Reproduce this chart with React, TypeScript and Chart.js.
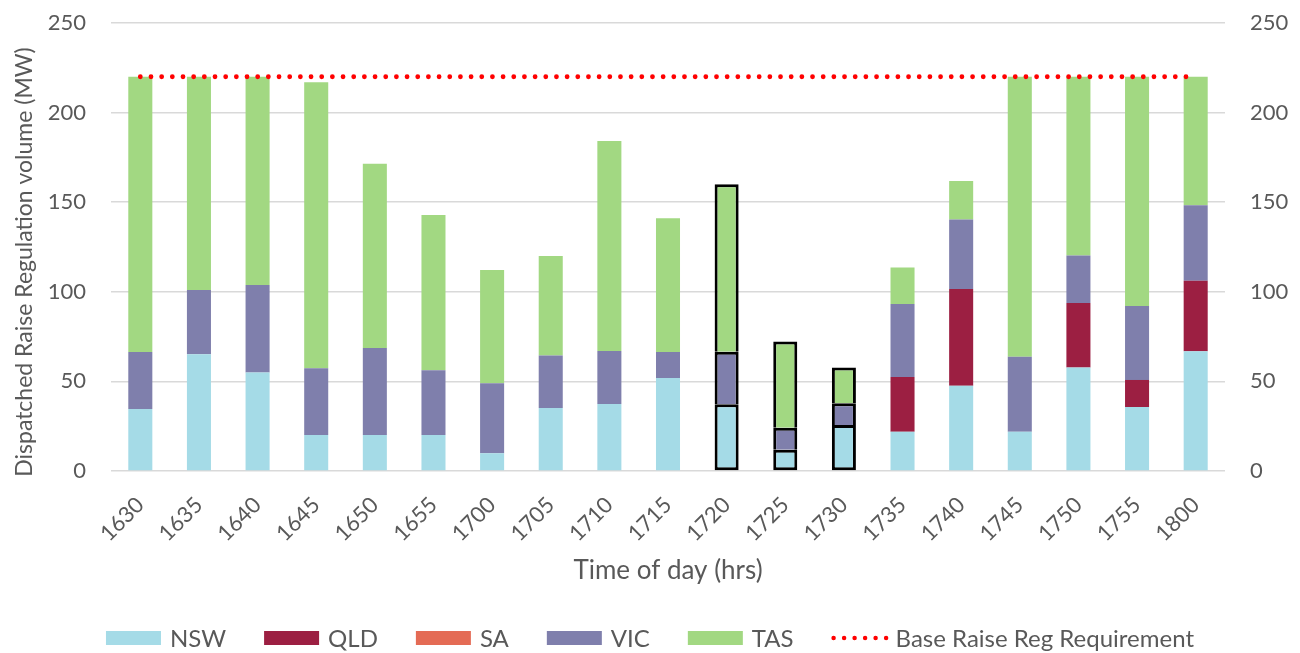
import React, { useEffect, useRef } from "react";
import { Chart, registerables } from "chart.js";

Chart.register(...registerables);

// Five-minute dispatch intervals (hhmm)
const TIMES = [
  "1630", "1635", "1640", "1645", "1650", "1655", "1700", "1705", "1710", "1715",
  "1720", "1725", "1730", "1735", "1740", "1745", "1750", "1755", "1800",
];

// Dispatched raise regulation by region (MW)
const NSW = [34.6, 65.1, 54.9, 20.1, 20.1, 20.1, 9.9, 35.2, 37.4, 51.9, 37.2, 11.9, 25.7, 21.9, 47.6, 21.9, 57.8, 35.7, 66.8];
const QLD = [0, 0, 0, 0, 0, 0, 0, 0, 0, 0, 0, 0, 0, 30.6, 54.0, 0, 35.9, 15.1, 39.4];
const SA = [0, 0, 0, 0, 0, 0, 0, 0, 0, 0, 0, 0, 0, 0, 0, 0, 0, 0, 0];
const VIC = [31.8, 35.9, 48.9, 37.2, 48.5, 36.1, 39.0, 29.2, 29.6, 14.5, 29.4, 12.3, 12.1, 40.7, 38.8, 41.9, 26.5, 41.3, 42.1];
const TAS = [153.6, 119.0, 116.2, 159.7, 102.9, 86.7, 63.3, 55.6, 117.2, 74.6, 93.4, 48.0, 19.9, 20.3, 21.4, 156.2, 99.8, 127.9, 71.7];

// Base raise regulation requirement (MW)
const BASE_REQ = [220, 220, 220, 220, 220, 220, 220, 220, 220, 220, 220, 220, 220, 220, 220, 220, 220, 220, 220];

// Intervals whose bars are outlined
const OUTLINED = ["1720", "1725", "1730"];

const Y_TICKS = [0, 50, 100, 150, 200, 250];

const Y_TITLE = "Dispatched Raise Regulation volume (MW)";
const X_TITLE = "Time of day (hrs)";

const FONT = "Lato";
const TEXT = "#595959";
const COLORS = {
  NSW: "#A5DBE7",
  QLD: "#9C1F42",
  SA: "#E46B55",
  VIC: "#7F7FAC",
  TAS: "#A2D882",
  REQ: "#FF0000",
};

const W = 1300;
const H = 653;

const isOutlined = (i: number) => OUTLINED.includes(TIMES[i]);

function barSet(label: string, data: number[], color: string, outlineBottom: boolean) {
  return {
    type: "bar" as const,
    label,
    data,
    backgroundColor: color,
    borderColor: "#000000",
    borderWidth: (c: any) => (isOutlined(c.dataIndex) && c.raw > 0 ? 3 : 0),
    borderSkipped: outlineBottom ? false : "start",
    stack: "regions",
    barPercentage: 0.41,
    categoryPercentage: 1,
    order: 1,
  };
}

// Draws the rotated y-axis title and the bottom legend
const annotations = {
  id: "annotations",
  afterDraw(chart: any) {
    const ctx = chart.ctx as CanvasRenderingContext2D;
    ctx.save();
    ctx.font = `23px ${FONT}`;
    ctx.fillStyle = TEXT;
    ctx.textAlign = "center";
    ctx.textBaseline = "middle";
    ctx.translate(25, 262);
    ctx.rotate(-Math.PI / 2);
    ctx.fillText(Y_TITLE, 0, 0);
    ctx.restore();

    // legend
    const boxW = 55;
    const boxH = 14;
    const gapText = 9;
    const gapItem = 38;
    const cy = 638;
    ctx.save();
    ctx.font = `24px ${FONT}`;
    ctx.textBaseline = "middle";
    ctx.textAlign = "left";
    const items = chart.data.datasets.map((ds: any) => ({
      label: ds.label as string,
      color: (ds.type === "line" ? ds.borderColor : ds.backgroundColor) as string,
      isLine: ds.type === "line",
      tw: ctx.measureText(ds.label).width,
    }));
    const total =
      items.reduce((s: number, it: any) => s + boxW + gapText + it.tw, 0) + gapItem * (items.length - 1);
    let x = (chart.width - total) / 2;
    for (const it of items) {
      if (it.isLine) {
        ctx.save();
        ctx.strokeStyle = it.color;
        ctx.lineWidth = 4.5;
        ctx.lineCap = "round";
        ctx.setLineDash([0, 10.5]);
        ctx.beginPath();
        ctx.moveTo(x + 2, cy);
        ctx.lineTo(x + boxW, cy);
        ctx.stroke();
        ctx.restore();
      } else {
        ctx.fillStyle = it.color;
        ctx.fillRect(x, cy - boxH / 2, boxW, boxH);
      }
      ctx.fillStyle = TEXT;
      ctx.fillText(it.label, x + boxW + gapText, cy + 1);
      x += boxW + gapText + it.tw + gapItem;
    }
    ctx.restore();
  },
};

export default function App() {
  const ref = useRef<HTMLCanvasElement | null>(null);

  useEffect(() => {
    if (!ref.current) return;
    Chart.defaults.font.family = FONT;
    Chart.defaults.color = TEXT;

    const yTicks = {
      stepSize: 50,
      padding: 0,
      color: TEXT,
      font: { size: 22, family: FONT },
      callback: (v: any) => (Y_TICKS.includes(Number(v)) ? String(v) : ""),
    };

    const chart = new Chart(ref.current, {
      type: "bar",
      data: {
        labels: TIMES,
        datasets: [
          barSet("NSW", NSW, COLORS.NSW, true),
          barSet("QLD", QLD, COLORS.QLD, false),
          barSet("SA", SA, COLORS.SA, false),
          barSet("VIC", VIC, COLORS.VIC, false),
          barSet("TAS", TAS, COLORS.TAS, false),
          {
            type: "line" as const,
            label: "Base Raise Reg Requirement",
            data: BASE_REQ,
            borderColor: COLORS.REQ,
            backgroundColor: COLORS.REQ,
            borderWidth: 4.8,
            borderDash: [0, 10.67],
            borderCapStyle: "round",
            pointRadius: 0,
            tension: 0,
            fill: false,
            stack: "requirement",
            order: 0,
          } as any,
        ],
      },
      options: {
        responsive: false,
        animation: false,
        events: [],
        layout: { padding: { top: 23, left: 0, right: 0, bottom: 63 } },
        plugins: {
          legend: { display: false },
          tooltip: { enabled: false },
          title: { display: false },
        },
        scales: {
          x: {
            stacked: true,
            offset: true,
            grid: { display: false, drawTicks: false },
            border: { display: false },
            ticks: {
              autoSkip: false,
              minRotation: 45,
              maxRotation: 45,
              padding: 21,
              color: TEXT,
              font: { size: 22, family: FONT },
            },
            title: {
              display: true,
              text: X_TITLE,
              color: TEXT,
              font: { size: 26, family: FONT },
              padding: { top: 4, bottom: 4 },
            },
            afterFit: (s: any) => {
              s.height = 119;
            },
          },
          y: {
            stacked: true,
            min: 0,
            max: 250,
            position: "left",
            grid: {
              color: "#D9D9D9",
              lineWidth: 1.5,
              drawTicks: true,
              tickLength: 25,
              tickColor: "rgba(0,0,0,0)",
            },
            border: { display: false },
            ticks: yTicks,
            afterFit: (s: any) => {
              s.width = 111;
            },
          },
          y2: {
            min: 0,
            max: 250,
            position: "right",
            grid: {
              drawOnChartArea: false,
              drawTicks: true,
              tickLength: 25,
              tickColor: "rgba(0,0,0,0)",
            },
            border: { display: false },
            ticks: yTicks,
            afterFit: (s: any) => {
              s.width = 75;
            },
          },
        },
      } as any,
      plugins: [annotations],
    });

    return () => chart.destroy();
  }, []);

  return (
    <div style={{ position: "fixed", left: 0, top: 0, width: W, height: H, background: "#ffffff" }}>
      <canvas ref={ref} width={W} height={H} style={{ display: "block" }} />
    </div>
  );
}
